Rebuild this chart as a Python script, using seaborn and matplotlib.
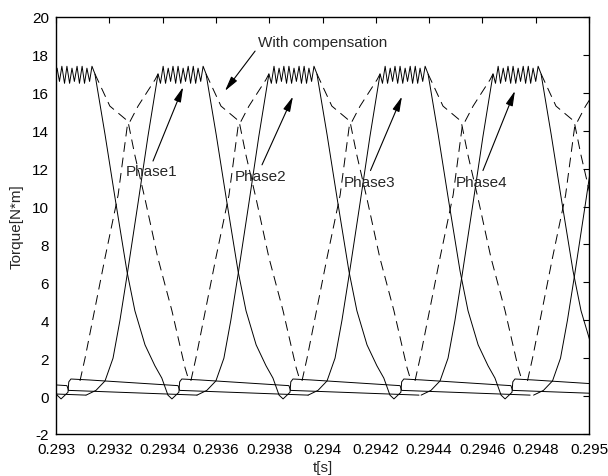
import numpy as np
import pandas as pd
import matplotlib
matplotlib.use("Agg")
import matplotlib.pyplot as plt
import seaborn as sns

# Start of the flat-top (conduction) interval of each stroke [s]; phases follow A-B-C-D
plateau_starts = [0.291716, 0.292133, 0.292550, 0.292966, 0.293383,
                  0.293799, 0.294216, 0.294640, 0.295062]
plateau_len_us = 180
# Torque compensation is active from this instant on [s]
comp_on = 0.293

# Phase torque, rising edge (µs relative to plateau start) [N*m]
rise_us = [-270, -233, -199, -169, -143, -116, -75, -38, 0]
rise_tq = [0.05, 0.3, 0.8, 2.0, 4.0, 6.4, 10.2, 13.7, 17.0]

# Hysteresis ripple on the flat top (µs after plateau start)
ripple_us = [9, 19, 28, 38, 47, 56, 66, 75, 85, 94, 103, 113, 122, 132, 141, 150, 160, 169]
ripple_tq = [16.5, 17.4, 16.5, 17.3, 16.6, 17.4, 16.5, 17.4, 16.5, 17.3,
             16.6, 17.4, 16.5, 17.4, 16.5, 17.3, 16.6, 17.4]

# Falling edge and residual torque (µs after plateau end)
fall_us = [0, 38, 75, 120, 150, 188, 225, 251, 274, 289, 304, 315, 318, 326, 394, 728, 734, 1216]
fall_tq = [17.0, 13.8, 10.5, 6.6, 4.5, 2.7, 1.6, 0.95, 0.05, -0.15, 0.05, 0.2,
           0.75, 0.9, 0.85, 0.55, 0.3, 0.05]

# Torque with compensation: rising and falling edges
comp_rise_us = [-293, -274, -199, -150, -116, -75, -11, 0]
comp_rise_tq = [0.8, 2.0, 7.3, 10.6, 14.2, 15.3, 16.7, 17.0]
comp_fall_us = [0, 56, 124, 150, 188, 236, 289, 338, 353]
comp_fall_tq = [17.0, 15.3, 14.5, 12.7, 10.4, 7.3, 4.5, 1.5, 0.8]

x_ticks = [0.293, 0.2932, 0.2934, 0.2936, 0.2938, 0.294,
           0.2942, 0.2944, 0.2946, 0.2948, 0.295]
x_tick_labels = ["0.293", "0.2932", "0.2934", "0.2936", "0.2938", "0.294",
                 "0.2942", "0.2944", "0.2946", "0.2948", "0.295"]
y_ticks = list(range(-2, 21, 2))

# Annotation labels: (text, text position, arrow tail, arrow tip)
phase_labels = ["Phase1", "Phase2", "Phase3", "Phase4"]
phase_text_xy = [(0.293360, 11.85), (0.293769, 11.6), (0.294178, 11.3), (0.294598, 11.3)]
phase_tail_xy = [(0.293364, 12.4), (0.293773, 12.2), (0.294180, 11.9), (0.294602, 11.9)]
phase_tip_xy = [(0.293477, 16.3), (0.293889, 15.8), (0.294298, 15.8), (0.294722, 16.1)]
comp_label = "With compensation"
comp_text_xy = (0.293758, 18.7)
comp_tail_xy = (0.293747, 18.2)
comp_tip_xy = (0.293634, 16.1)

# ---- assemble long-form table --------------------------------------------
rows = []
seg = 0
for s in plateau_starts:
    e = s + plateau_len_us * 1e-6
    t = ([s + u * 1e-6 for u in rise_us] + [s + u * 1e-6 for u in ripple_us]
         + [e + u * 1e-6 for u in fall_us])
    v = rise_tq + ripple_tq + fall_tq
    rows += [(ti, vi, seg, "solid") for ti, vi in zip(t, v)]
    seg += 1
    if s + comp_rise_us[0] * 1e-6 >= comp_on:
        rows += [(s + u * 1e-6, vi, seg, "dashed") for u, vi in zip(comp_rise_us, comp_rise_tq)]
        seg += 1
    if e >= comp_on:
        rows += [(e + u * 1e-6, vi, seg, "dashed") for u, vi in zip(comp_fall_us, comp_fall_tq)]
        seg += 1
df = pd.DataFrame(rows, columns=["t", "torque", "seg", "kind"])

# ---- plotting -------------------------------------------------------------
sns.set_theme(style="white")
plt.rcParams["font.family"] = ["Liberation Sans", "DejaVu Sans"]

fig = plt.figure(figsize=(6.08, 4.77), dpi=100)
ax = fig.add_axes([0.0921, 0.0881, 0.8767, 0.8742])

sns.lineplot(data=df, x="t", y="torque", units="seg", estimator=None,
             style="kind", dashes={"solid": "", "dashed": (10, 6)},
             color="black", linewidth=0.7, sort=False, legend=False, ax=ax)

ax.set_xlim(0.293, 0.295)
ax.set_ylim(-2, 20)
ax.set_xticks(x_ticks)
ax.set_xticklabels(x_tick_labels)
ax.set_yticks(y_ticks)
ax.set_yticklabels([str(v) for v in y_ticks])
ax.tick_params(axis="both", which="major", direction="in", length=4, width=0.8,
               top=True, right=True, labelsize=11, colors="black")
ax.tick_params(axis="x", pad=6)
ax.tick_params(axis="y", pad=5)
for sp in ax.spines.values():
    sp.set_visible(True)
    sp.set_color("black")
    sp.set_linewidth(1.0)

ax.set_xlabel("t[s]", fontsize=11, labelpad=3)
ax.set_ylabel("Torque[N*m]", fontsize=11, labelpad=6)

arrow_kw = dict(arrowstyle="-|>,head_length=0.9,head_width=0.22",
                color="black", lw=0.8, shrinkA=0, shrinkB=0, mutation_scale=10)
for lab, txy, tail, tip in zip(phase_labels, phase_text_xy, phase_tail_xy, phase_tip_xy):
    ax.annotate("", xy=tip, xytext=tail, arrowprops=arrow_kw)
    ax.text(txy[0], txy[1], lab, fontsize=11, ha="center", va="center")

ax.annotate("", xy=comp_tip_xy, xytext=comp_tail_xy, arrowprops=arrow_kw)
ax.text(comp_text_xy[0], comp_text_xy[1], comp_label, fontsize=11, ha="left", va="center")

fig.savefig("out.png", dpi=100, facecolor="white")
